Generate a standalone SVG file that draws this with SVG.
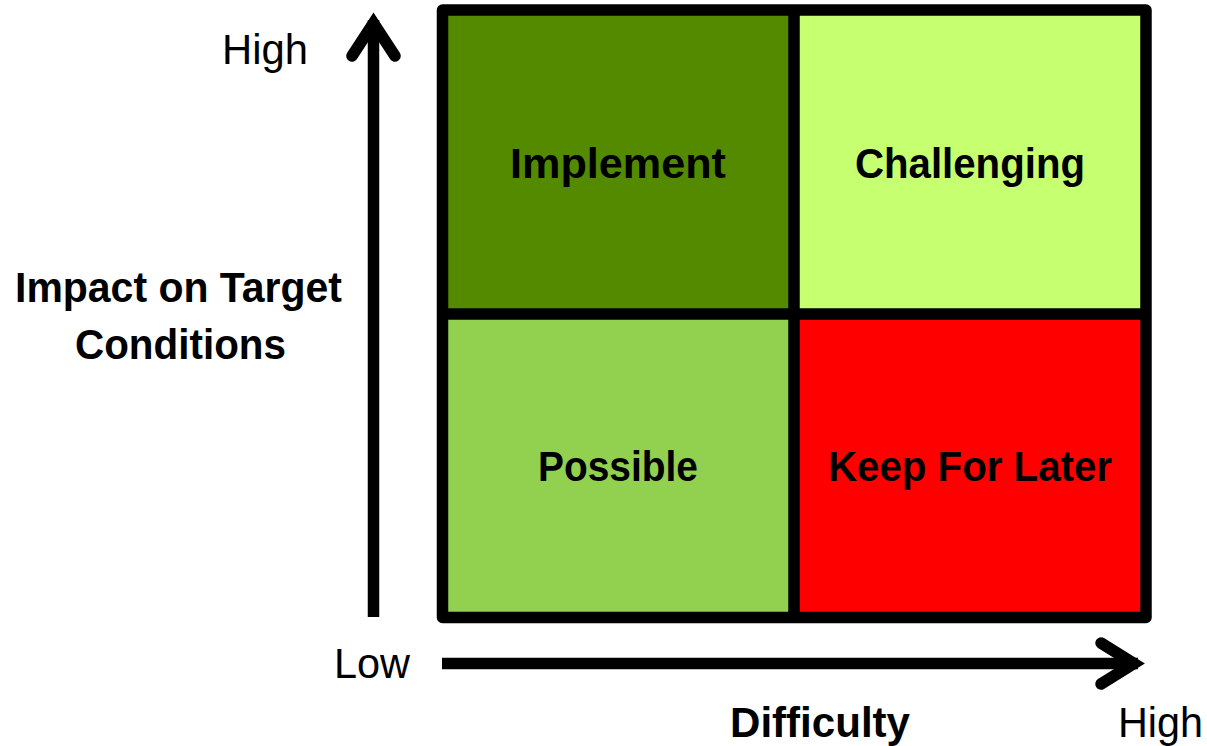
<svg xmlns="http://www.w3.org/2000/svg" width="1207" height="746" viewBox="0 0 1207 746">
  <style>
    .lbl { font-family: "Liberation Sans", Arial, sans-serif; font-size: 42px; fill: #000; }
    .bold { font-weight: bold; }
    .mid { text-anchor: middle; }
    .axis { fill: none; stroke: #000; stroke-width: 11.5; }
    .head { fill: none; stroke: #000; stroke-width: 11.5; stroke-linecap: round; stroke-linejoin: miter; }
    .grid { fill: none; stroke: #000; stroke-width: 11.5; stroke-linejoin: round; }
  </style>

  <!-- quadrant cells -->
  <g id="implement">
    <rect x="442.5" y="10" width="351.5" height="304" fill="#538A00"/>
    <text class="lbl bold mid" x="618" y="178" textLength="216" lengthAdjust="spacingAndGlyphs">Implement</text>
  </g>
  <g id="challenging">
    <rect x="794" y="10" width="352" height="304" fill="#C6FF70"/>
    <text class="lbl bold mid" x="970" y="178" textLength="230" lengthAdjust="spacingAndGlyphs">Challenging</text>
  </g>
  <g id="possible">
    <rect x="442.5" y="314" width="351.5" height="303.5" fill="#92D050"/>
    <text class="lbl bold mid" x="618" y="481" textLength="160" lengthAdjust="spacingAndGlyphs">Possible</text>
  </g>
  <g id="keep-for-later">
    <rect x="794" y="314" width="352" height="303.5" fill="#FF0000"/>
    <text class="lbl bold mid" x="970" y="481" textLength="284" lengthAdjust="spacingAndGlyphs">Keep For Later</text>
  </g>

  <!-- matrix frame and dividers -->
  <g id="frame">
    <rect class="grid" x="442.5" y="10" width="703.5" height="607.5"/>
    <line class="grid" x1="794" y1="10" x2="794" y2="617.5"/>
    <line class="grid" x1="442.5" y1="314" x2="1146" y2="314"/>
  </g>

  <!-- axes -->
  <g id="connectors">
    <line class="axis" x1="373.5" y1="617" x2="373.5" y2="20"/>
    <polyline class="head" points="352,56 373.5,23 395,56"/>
    <line class="axis" x1="442" y1="663.5" x2="1138" y2="663.5"/>
    <polyline class="head" points="1101,643 1134,663.5 1101,684"/>
  </g>

  <!-- axis labels -->
  <g id="y-axis-label">
    <text class="lbl bold mid" x="178.5" y="302" textLength="327" lengthAdjust="spacingAndGlyphs">Impact on Target</text>
    <text class="lbl bold mid" x="180.5" y="359" textLength="211" lengthAdjust="spacingAndGlyphs">Conditions</text>
  </g>
  <g id="y-high">
    <text class="lbl" x="222" y="64" textLength="86" lengthAdjust="spacingAndGlyphs">High</text>
  </g>
  <g id="x-low">
    <text class="lbl" x="334" y="678" textLength="76" lengthAdjust="spacingAndGlyphs">Low</text>
  </g>
  <g id="x-axis-label">
    <text class="lbl bold mid" x="820" y="737" textLength="180" lengthAdjust="spacingAndGlyphs">Difficulty</text>
  </g>
  <g id="x-high">
    <text class="lbl" x="1118" y="737" textLength="85" lengthAdjust="spacingAndGlyphs">High</text>
  </g>
</svg>
